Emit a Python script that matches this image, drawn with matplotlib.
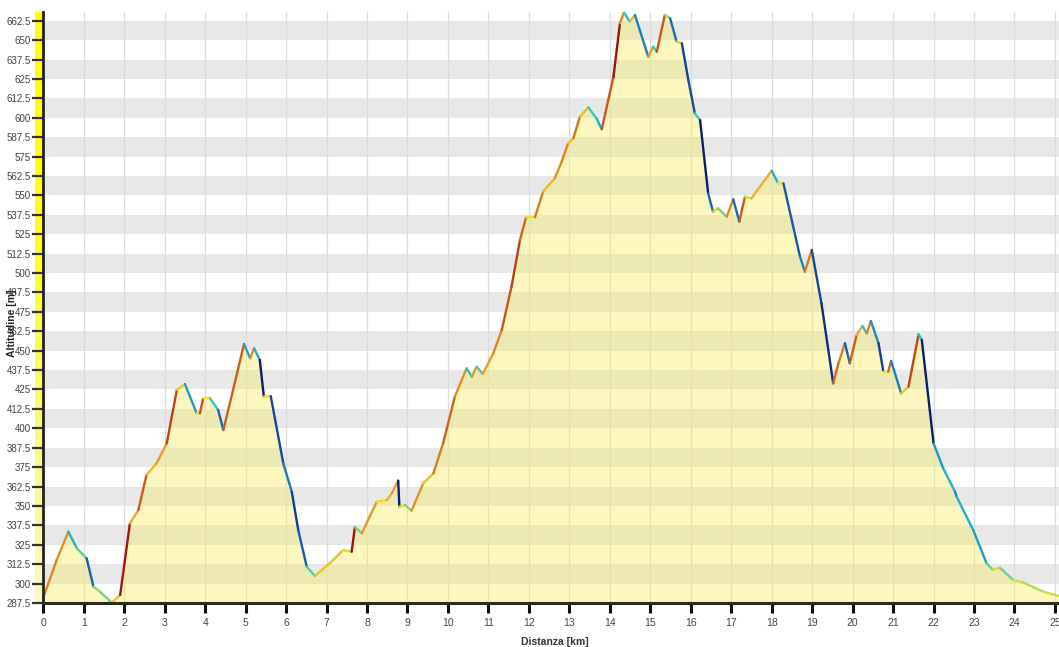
import numpy as np
import matplotlib
matplotlib.use("Agg")
import matplotlib.pyplot as plt
from matplotlib.collections import LineCollection
from matplotlib.colors import LinearSegmentedColormap, Normalize
from matplotlib import font_manager

# ---------------- data ----------------
distance_km = [
    0.00, 0.33, 0.62, 0.83, 1.07, 1.24, 1.40, 1.69, 1.90, 2.14, 2.35, 2.55, 2.80,
    3.05, 3.30, 3.50, 3.79, 3.87, 3.95, 4.12, 4.32, 4.45, 4.69, 4.96, 5.11, 5.21,
    5.35, 5.45, 5.62, 5.93, 6.14, 6.30, 6.51, 6.71, 7.08, 7.41, 7.62, 7.70, 7.87,
    8.24, 8.49, 8.61, 8.77, 8.80, 8.94, 9.10, 9.39, 9.64, 9.88, 10.17, 10.46,
    10.59, 10.71, 10.86, 11.12, 11.33, 11.57, 11.78, 11.93, 12.15, 12.35, 12.64,
    12.81, 12.97, 13.10, 13.26, 13.47, 13.67, 13.80, 14.09, 14.25, 14.35, 14.49,
    14.62, 14.74, 14.95, 15.07, 15.16, 15.36, 15.49, 15.65, 15.78, 15.94, 16.10,
    16.23, 16.43, 16.55, 16.67, 16.89, 17.05, 17.20, 17.34, 17.50, 17.71, 18.00,
    18.16, 18.29, 18.70, 18.82, 18.99, 19.23, 19.52, 19.65, 19.81, 19.93, 20.10,
    20.24, 20.35, 20.45, 20.64, 20.76, 20.88, 20.95, 21.20, 21.38, 21.63, 21.71,
    22.00, 22.24, 22.53, 22.57, 22.98, 23.31, 23.47, 23.64, 23.97, 24.21, 24.71,
    25.10,
]
altitude_m = [
    291.0, 315.2, 333.4, 322.7, 316.3, 298.0, 294.8, 287.7, 292.7, 338.8, 347.4,
    370.0, 377.5, 390.3, 424.7, 428.5, 409.7, 409.7, 419.3, 419.3, 411.8, 398.9,
    424.7, 454.3, 445.1, 451.5, 444.0, 420.4, 420.8, 377.5, 359.2, 334.5, 310.9,
    304.9, 313.1, 321.6, 320.5, 336.3, 332.4, 352.7, 353.8, 358.1, 366.3, 349.5,
    350.6, 347.0, 364.6, 371.0, 390.3, 420.4, 438.6, 433.2, 439.7, 435.0, 448.3,
    463.3, 491.2, 521.3, 535.9, 535.9, 552.4, 561.0, 571.7, 583.5, 586.8, 600.7,
    606.7, 599.6, 592.6, 626.4, 660.8, 667.9, 661.9, 666.2, 656.5, 639.3, 645.8,
    642.5, 666.2, 664.1, 649.0, 648.0, 624.3, 602.9, 598.5, 551.3, 539.5, 541.7,
    536.3, 547.5, 533.1, 549.2, 548.1, 555.6, 565.9, 557.8, 557.8, 510.5, 500.9,
    514.8, 480.5, 429.0, 441.9, 454.8, 441.9, 460.1, 465.9, 461.2, 469.1, 454.8,
    436.5, 436.5, 443.4, 422.5, 426.8, 460.5, 456.9, 390.3, 374.2, 359.2, 356.0,
    334.5, 313.1, 308.8, 310.2, 302.3, 300.8, 294.8, 292.0,
]
x_ticks = list(range(0, 26))
y_ticks = [287.5 + 12.5 * i for i in range(31)]
y_tick_labels = [("%g" % v) for v in y_ticks]
x_label = "Distanza [km]"
y_label = "Altitudine [m]"

# ---------------- fonts ----------------
names = {f.name for f in font_manager.fontManager.ttflist}
base_font = "Liberation Sans Narrow" if "Liberation Sans Narrow" in names else "Liberation Sans"
plt.rcParams["font.family"] = [base_font, "DejaVu Sans"]

W, H = 1059, 647
fig = plt.figure(figsize=(W / 100, H / 100), dpi=100)
fig.patch.set_facecolor("white")

ax_left_px, ax_right_px, ax_top_px, ax_bot_px = 43.3, 1059, 12, 603
ax = fig.add_axes([ax_left_px / W, (H - ax_bot_px) / H,
                   (ax_right_px - ax_left_px) / W, (ax_bot_px - ax_top_px) / H])

x = np.array(distance_km)
y = np.array(altitude_m)

ymin, ymax = 287.5, 668.1
xmin, xmax = 0, 25.1
ax.set_xlim(xmin, xmax)
ax.set_ylim(ymin, ymax)

# alternating grey bands
for lo in np.arange(300.0, 663.0, 25.0):
    ax.axhspan(lo, lo + 12.5, color="#e8e8e8", lw=0, zorder=0)

# vertical grid
for t in x_ticks:
    ax.axvline(t, color="#dcdcdc", lw=0.9, zorder=0.5)

# fill under profile
ax.fill_between(x, ymin, y, color=(247 / 255, 237 / 255, 97 / 255), alpha=0.40, lw=0, zorder=1)

# line coloured by gradient
slope = np.diff(y) / (np.diff(x) * 1000.0) * 100.0
cmap = LinearSegmentedColormap.from_list(
    "grad",
    [(0.00, "#0b1c72"), (0.25, "#1a64b8"), (0.40, "#1ec4d6"), (0.50, "#f2e41c"),
     (0.62, "#e8a02a"), (0.78, "#cc5a16"), (1.00, "#9e0f0f")])
norm = Normalize(-20, 20)
pts = np.column_stack([x, y]).reshape(-1, 1, 2)
segs = np.concatenate([pts[:-1], pts[1:]], axis=1)
lc = LineCollection(segs, colors=cmap(norm(slope)), linewidths=1.7, zorder=3,
                    capstyle="round", joinstyle="round")
ax.add_collection(lc)

# axes styling
for s in ["top", "right"]:
    ax.spines[s].set_visible(False)
ax.spines["left"].set_color("#222222")
ax.spines["left"].set_linewidth(2.0)
ax.spines["left"].set_zorder(5)
ax.spines["bottom"].set_color("#2b2b1e")
ax.spines["bottom"].set_linewidth(2.2)
ax.spines["bottom"].set_zorder(5)

ax.set_xticks(x_ticks)
ax.set_xticklabels([str(t) for t in x_ticks])
ax.set_yticks(y_ticks)
ax.set_yticklabels(y_tick_labels)
ax.tick_params(axis="x", direction="out", length=7, width=2.2, color="#111111",
               labelsize=7.5, labelcolor="#444444", pad=4)
ax.tick_params(axis="y", direction="out", length=8, width=1.6, color="#333333",
               labelsize=7, labelcolor="#444444", pad=1)
for t in ax.yaxis.get_major_ticks():
    t.tick1line.set_zorder(6)

# yellow gradient bar to the left of y axis
bar = fig.add_axes([35 / W, (H - ax_bot_px) / H, (ax_left_px - 35) / W,
                    (ax_bot_px - ax_top_px) / H], zorder=-1)
grad = np.linspace(0, 1, 256).reshape(-1, 1)
bar_cmap = LinearSegmentedColormap.from_list("ybar", ["#f9f9c4", "#fbfb6a", "#ffff10", "#ffff00"])
bar.imshow(grad, aspect="auto", cmap=bar_cmap, origin="lower", extent=[0, 1, 0, 1])
bar.set_axis_off()
ax.set_zorder(1)
ax.patch.set_alpha(0)

# axis labels
fig.text(555 / W, 1 - 642 / H, x_label, ha="center", va="center",
         fontsize=7.5, fontweight="bold", color="#333333")
fig.text(12 / W, 1 - 323 / H, y_label, ha="center", va="center", rotation=90,
         fontsize=7.5, fontweight="bold", color="#222222")

fig.savefig("out.png", dpi=100, facecolor="white")
